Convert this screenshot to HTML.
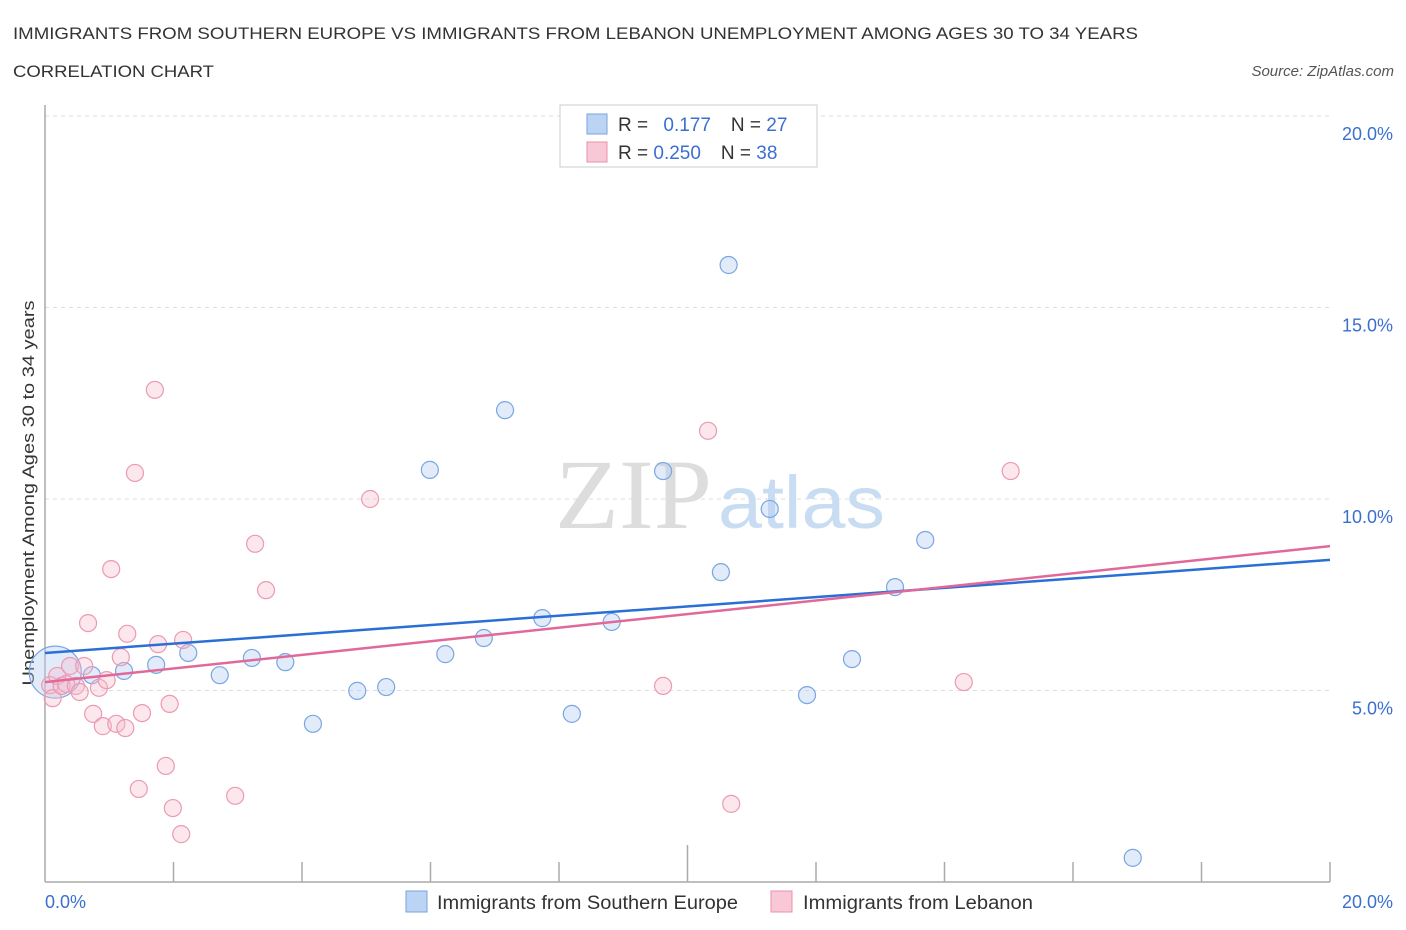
<!DOCTYPE html>
<html><head><meta charset="utf-8"><style>
body{margin:0;background:#fff;font-family:"Liberation Sans",sans-serif;}
svg{display:block}
</style></head><body>
<svg width="1406" height="930" xmlns="http://www.w3.org/2000/svg">
<text x="13" y="39" font-size="17" fill="#333" textLength="1125" lengthAdjust="spacingAndGlyphs">IMMIGRANTS FROM SOUTHERN EUROPE VS IMMIGRANTS FROM LEBANON UNEMPLOYMENT AMONG AGES 30 TO 34 YEARS</text>
<text x="13" y="77" font-size="17" fill="#333" textLength="201" lengthAdjust="spacingAndGlyphs">CORRELATION CHART</text>
<text x="1394" y="76" font-size="15" fill="#555" font-style="italic" text-anchor="end">Source: ZipAtlas.com</text>
<g id="grid"></g>
<text x="555" y="528" font-size="100" font-family="Liberation Serif,serif" fill="#ddd" textLength="157" lengthAdjust="spacingAndGlyphs">ZIP</text>
<text x="718" y="528" font-size="74" fill="#c8dcf2" textLength="167" lengthAdjust="spacingAndGlyphs">atlas</text>
<line x1="45" y1="105" x2="45" y2="882" stroke="#aaa" stroke-width="1.5"/>
<line x1="45" y1="882" x2="1330" y2="882" stroke="#aaa" stroke-width="1.5"/>
<text transform="translate(34,493) rotate(-90)" font-size="17" fill="#333" text-anchor="middle" textLength="385" lengthAdjust="spacingAndGlyphs">Unemployment Among Ages 30 to 34 years</text>
<text x="45" y="908" font-size="18" fill="#3a6fd0">0.0%</text>
<text x="1393" y="908" font-size="18" fill="#3a6fd0" text-anchor="end">20.0%</text>
<g id="marks"></g>
<g>
<rect x="560" y="105" width="257" height="62" fill="#fff" stroke="#ccc"/>
<rect x="587" y="114" width="20" height="20" fill="#bcd4f4" stroke="#7aa3e0"/>
<rect x="587" y="142" width="20" height="20" fill="#f9c8d6" stroke="#e890ab"/>
<text x="618" y="131" font-size="19" fill="#333">R = <tspan fill="#3a6fd0" dx="10">0.177</tspan><tspan dx="20">N = </tspan><tspan fill="#3a6fd0">27</tspan></text>
<text x="618" y="159" font-size="19" fill="#333">R = <tspan fill="#3a6fd0">0.250</tspan><tspan dx="20">N = </tspan><tspan fill="#3a6fd0">38</tspan></text>
</g>
<g>
<rect x="406" y="891" width="21" height="21" fill="#bcd4f4" stroke="#7aa3e0"/>
<text x="437" y="909" font-size="19" fill="#333" textLength="301" lengthAdjust="spacingAndGlyphs">Immigrants from Southern Europe</text>
<rect x="771" y="891" width="21" height="21" fill="#f9c8d6" stroke="#e890ab"/>
<text x="803" y="909" font-size="19" fill="#333" textLength="230" lengthAdjust="spacingAndGlyphs">Immigrants from Lebanon</text>
</g>
</svg>
<script>
const yTicks=[5,10,15,20];
const yTickLabels=["5.0%","10.0%","15.0%","20.0%"];
const xTicks=[2,4,6,8,10,12,14,16,18,20];
const blueX=[0.16,0.73,1.23,1.73,2.23,2.72,3.22,3.74,4.17,4.86,5.31,5.99,6.23,6.83,7.16,7.74,8.20,8.82,9.62,10.52,10.64,11.28,11.86,12.56,13.23,13.70,16.93];
const blueY=[5.48,5.40,5.51,5.67,5.98,5.40,5.85,5.74,4.13,4.99,5.09,10.76,5.95,6.37,12.32,6.89,4.39,6.79,10.73,8.09,16.11,9.74,4.88,5.82,7.70,8.93,0.63];
const pinkX=[0.08,0.12,0.19,0.26,0.33,0.39,0.48,0.54,0.61,0.67,0.75,0.84,0.90,0.96,1.03,1.11,1.18,1.25,1.28,1.40,1.46,1.51,1.71,1.76,1.88,1.94,1.99,2.12,2.15,2.96,3.27,3.44,5.06,9.62,10.32,10.68,14.30,15.03];
const pinkY=[5.14,4.80,5.38,5.12,5.17,5.64,5.12,4.96,5.64,6.76,4.39,5.07,4.07,5.27,8.17,4.13,5.87,4.02,6.48,10.68,2.43,4.41,12.85,6.21,3.03,4.65,1.93,1.25,6.32,2.25,8.83,7.62,10.00,5.12,11.78,2.04,5.22,10.73];
const blueTrend=[5.98,8.41];
const pinkTrend=[5.22,8.77];
const NS="http://www.w3.org/2000/svg";
const sx=v=>45+v/20*1285;
const sy=v=>882-v/5*191.5;
function mk(tag,attrs,parent){const e=document.createElementNS(NS,tag);for(const k in attrs)e.setAttribute(k,attrs[k]);parent.appendChild(e);return e;}
const grid=document.getElementById('grid'),marks=document.getElementById('marks');
yTicks.forEach((t,i)=>{
 const l=mk('line',{x1:45,x2:1330,y1:sy(t),y2:sy(t),stroke:'#ddd','stroke-dasharray':'4,4'},grid);
 
 
 const tx=mk('text',{x:1393,y:sy(t)+24,'font-size':18,fill:'#3a6fd0','text-anchor':'end'},grid);
 tx.textContent=yTickLabels[i];
 
 
});
xTicks.forEach(t=>{
 const l=mk('line',{x1:sx(t),x2:sx(t),y1:t==10?845:862,y2:882,stroke:'#aaa','stroke-width':1.5},grid);
 
 
});
blueX.forEach((x,i)=>{
 const c=mk('circle',{cx:sx(x),cy:sy(blueY[i]),r:i==0?26:8.5,fill:'rgba(180,206,242,0.4)',stroke:'#7aa6e2','stroke-width':1.2},marks);
 
 
});
pinkX.forEach((x,i)=>{
 const c=mk('circle',{cx:sx(x),cy:sy(pinkY[i]),r:8.5,fill:'rgba(247,185,203,0.35)',stroke:'#eb9ab3','stroke-width':1.2},marks);
 
 
});
const bl=mk('line',{x1:sx(0),x2:sx(20),y1:sy(blueTrend[0]),y2:sy(blueTrend[1]),stroke:'#2a6fd6','stroke-width':2.5},marks);


const pl=mk('line',{x1:sx(0),x2:sx(20),y1:sy(pinkTrend[0]),y2:sy(pinkTrend[1]),stroke:'#e0699a','stroke-width':2.5},marks);


</script>
</body></html>
